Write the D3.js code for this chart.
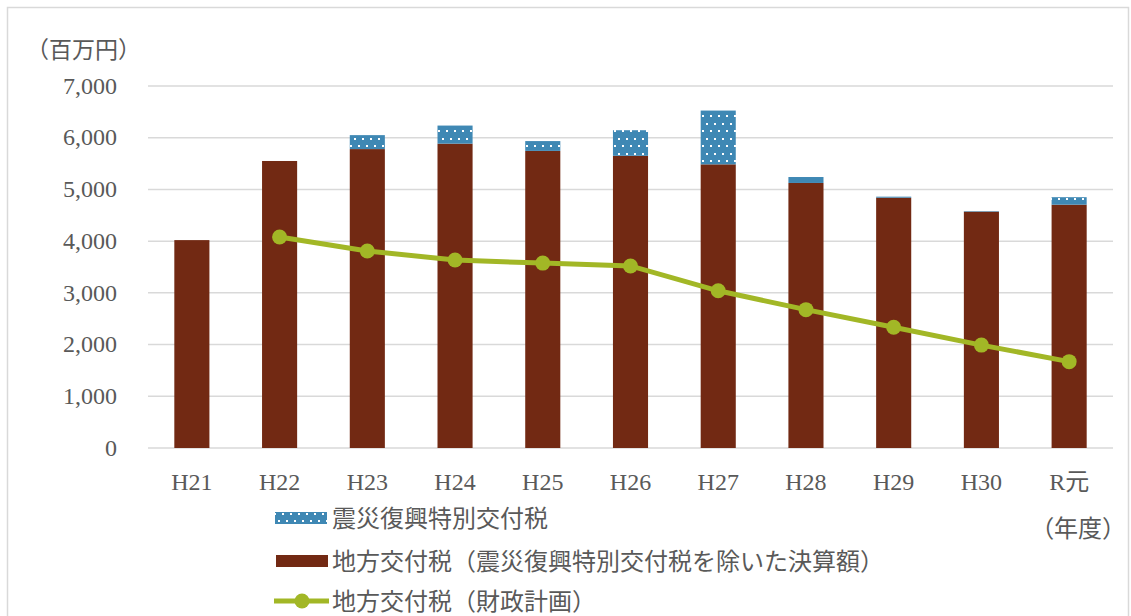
<!DOCTYPE html>
<html>
<head>
<meta charset="utf-8">
<script src="https://cdn.jsdelivr.net/npm/d3@7"></script>
<style>
  body { margin: 0; background: #fff; }
  svg text { fill: #595959; }
</style>
</head>
<body>
<svg id="chart" width="1131" height="616"></svg>
<script>
// 年度
const categories = ["H21", "H22", "H23", "H24", "H25", "H26", "H27", "H28", "H29", "H30", "R元"];
// 地方交付税（震災復興特別交付税を除いた決算額）
const baseValues = [4020, 5550, 5780, 5885, 5745, 5650, 5485, 5125, 4840, 4570, 4705];
// 震災復興特別交付税
const reconValues = [0, 0, 270, 350, 190, 495, 1040, 115, 20, 10, 145];
// 地方交付税（財政計画）— H21 has no plan value
const planValues = [null, 4080, 3810, 3635, 3575, 3520, 3040, 2675, 2335, 1990, 1670];
const yTicks = [0, 1000, 2000, 3000, 4000, 5000, 6000, 7000];

const legendLabels = [
  "震災復興特別交付税",
  "地方交付税（震災復興特別交付税を除いた決算額）",
  "地方交付税（財政計画）"
];

const svg = d3.select("#chart");
const serif = "'Liberation Serif', 'Noto Sans CJK JP', serif";
const cjk = "'Noto Sans CJK JP', sans-serif";
const brown = "#722913";
const blue = "#3f88b4";
const green = "#a2b726";

// outer frame
svg.append("rect").attr("x", 7.5).attr("y", 7.5).attr("width", 1121).attr("height", 620)
  .attr("fill", "none").attr("stroke", "#d9d9d9").attr("stroke-width", 1.5);

// dotted fill for the reconstruction tax segment
const defs = svg.append("defs");
const pat = defs.append("pattern").attr("id", "dots").attr("patternUnits", "userSpaceOnUse")
  .attr("width", 8).attr("height", 15);
pat.append("rect").attr("width", 8).attr("height", 15).attr("fill", blue);
pat.append("rect").attr("x", 2).attr("y", 3).attr("width", 2).attr("height", 2).attr("fill", "#fff");
pat.append("rect").attr("x", 6).attr("y", 10).attr("width", 2).attr("height", 2).attr("fill", "#fff");

const x = d3.scaleBand().domain(categories).range([148, 1113]).paddingInner(0.6).paddingOuter(0.3);
const y = d3.scaleLinear().domain([0, 7000]).range([448, 86]);

// gridlines
svg.append("g").selectAll("line").data(yTicks).join("line")
  .attr("x1", 148).attr("x2", 1113)
  .attr("y1", d => y(d)).attr("y2", d => y(d))
  .attr("stroke", "#d9d9d9").attr("stroke-width", 1.5);

// y axis labels
const yAxis = d3.axisLeft(y).tickValues(yTicks).tickSize(0).tickPadding(0)
  .tickFormat(d3.format(","));
const yg = svg.append("g").attr("transform", "translate(117,0)").call(yAxis);
yg.select(".domain").remove();
yg.selectAll("text").attr("font-family", serif).attr("font-size", 24).attr("fill", "#595959")
  .attr("dy", "0.3em");

// unit label
svg.append("text").attr("x", 26).attr("y", 58).attr("font-family", cjk).attr("font-size", 23)
  .text("（百万円）");

// x axis labels
const xAxis = d3.axisBottom(x).tickSize(0).tickPadding(0);
const xg = svg.append("g").attr("transform", "translate(0,490)").call(xAxis);
xg.select(".domain").remove();
xg.selectAll("text").attr("font-family", serif)
  .attr("font-size", 24).attr("fill", "#595959").attr("dy", 0);
svg.append("text").attr("x", x("R元") + x.bandwidth() / 2 + 9).attr("y", 537)
  .attr("text-anchor", "middle").attr("font-family", cjk).attr("font-size", 24)
  .text("（年度）");

// stacked bars
const bars = svg.append("g");
bars.selectAll("rect.base").data(categories).join("rect").attr("class", "base")
  .attr("x", d => x(d)).attr("width", x.bandwidth())
  .attr("y", (d, i) => y(baseValues[i]))
  .attr("height", (d, i) => y(0) - y(baseValues[i]))
  .attr("fill", brown);
bars.selectAll("rect.recon").data(categories).join("rect").attr("class", "recon")
  .attr("x", d => x(d)).attr("width", x.bandwidth())
  .attr("y", (d, i) => y(baseValues[i] + reconValues[i]))
  .attr("height", (d, i) => y(baseValues[i]) - y(baseValues[i] + reconValues[i]))
  .attr("fill", "url(#dots)");

// plan line
const pts = categories.map((c, i) => ({ c, v: planValues[i] })).filter(d => d.v != null);
const cx = d => x(d.c) + x.bandwidth() / 2;
svg.append("path").datum(pts)
  .attr("d", d3.line().x(cx).y(d => y(d.v)))
  .attr("fill", "none").attr("stroke", green).attr("stroke-width", 5);
svg.append("g").selectAll("circle").data(pts).join("circle")
  .attr("cx", cx).attr("cy", d => y(d.v)).attr("r", 7.5).attr("fill", green);

// legend
const lg = svg.append("g");
const rowY = [518, 561, 601];
lg.append("rect").attr("x", 275).attr("y", rowY[0] - 6).attr("width", 52).attr("height", 12).attr("fill", "url(#dots)");
lg.append("rect").attr("x", 276).attr("y", rowY[1] - 6).attr("width", 52).attr("height", 12).attr("fill", brown);
lg.append("line").attr("x1", 274).attr("x2", 329).attr("y1", rowY[2]).attr("y2", rowY[2])
  .attr("stroke", green).attr("stroke-width", 5);
lg.append("circle").attr("cx", 302).attr("cy", rowY[2]).attr("r", 7.5).attr("fill", green);
lg.selectAll("text").data(legendLabels).join("text")
  .attr("x", 332).attr("y", (d, i) => rowY[i]).attr("dy", "0.36em")
  .attr("font-family", cjk).attr("font-size", 24).text(d => d);
</script>
</body>
</html>
